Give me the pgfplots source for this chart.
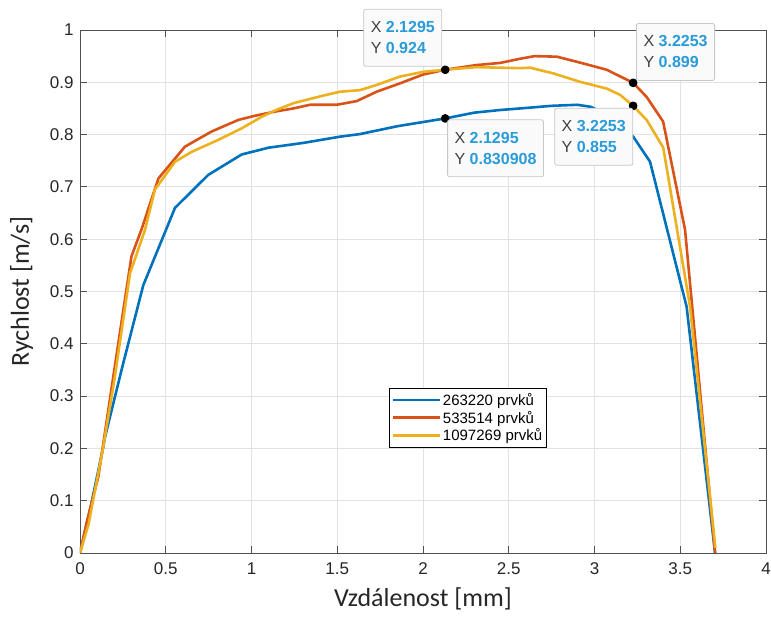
\documentclass[border=0pt]{standalone}
\usepackage{pgfplots}
\pgfplotsset{compat=1.18}
\usepackage{fontspec}
\setmainfont{Liberation Sans}
\newfontfamily\calibri{Carlito}
\definecolor{mblue}{HTML}{0072BD}
\definecolor{mred}{HTML}{D95319}
\definecolor{myellow}{HTML}{EDB120}
\definecolor{tipblue}{HTML}{2A9BD8}
\definecolor{axgray}{HTML}{505050}
\definecolor{gridgray}{HTML}{E2E2E2}
\definecolor{tickgray}{HTML}{262626}
\begin{document}
\begin{tikzpicture}[
  tipbox/.style={draw=black!22, fill=black!2, rounded corners=2pt, line width=0.8pt,
    inner xsep=7pt, inner ysep=0pt, minimum height=57pt, align=left,
    font=\fontsize{16}{21}\selectfont}]
\path[use as bounding box] (-80pt,-63pt) rectangle (691pt,553pt);
\begin{axis}[
  at={(0,0)}, anchor=south west,
  scale only axis, width=686pt, height=523pt,
  xmin=0, xmax=4, ymin=0, ymax=1,
  xtick={0,0.5,1,1.5,2,2.5,3,3.5,4},
  ytick={0,0.1,0.2,0.3,0.4,0.5,0.6,0.7,0.8,0.9,1},
  grid=major, major grid style={gridgray, line width=0.8pt},
  axis line style={axgray, line width=0.9pt},
  tick style={axgray, line width=0.9pt},
  tick align=inside, major tick length=7pt,
  /pgf/number format/assume math mode=true,
  ticklabel style={font=\fontsize{17}{20}\selectfont, text=tickgray},
  xticklabel style={yshift=-6pt},
  yticklabel style={xshift=-3pt},
  xlabel={Vzdálenost [mm]}, ylabel={Rychlost [m/s]},
  label style={font=\calibri\fontsize{26}{30}\selectfont, text=black!85},
  xlabel shift=6pt, ylabel shift=10pt,
  legend cell align=left,
  legend style={at={(rel axis cs:0.4504,0.3155)}, anchor=north west, draw=black, line width=0.8pt,
    font=\fontsize{15}{20}\selectfont, inner xsep=2pt, inner ysep=3pt,
    /tikz/every even column/.append style={column sep=3pt}},
  legend image code/.code={\draw[#1, line width=2.6pt] (0pt,0pt) -- (47pt,0pt);},
  every axis plot/.append style={line width=2.6pt, line join=round},
]
\addplot[mblue] coordinates {
(0,0) (0.06,0.085) (0.134,0.2) (0.146,0.222) (0.25,0.36) (0.369,0.512) (0.554,0.660)
(0.748,0.723) (0.943,0.762) (1.10,0.775) (1.30,0.784) (1.516,0.796) (1.633,0.801)
(1.85,0.816) (2.1295,0.830908) (2.30,0.842) (2.449,0.847) (2.566,0.850) (2.75,0.855)
(2.90,0.857) (2.98,0.853) (3.07,0.838) (3.15,0.818) (3.226,0.796) (3.324,0.748)
(3.537,0.471) (3.703,0.0)};
\addlegendentry{263220 prvků}
\addplot[mred] coordinates {
(0,0) (0.04,0.06) (0.107,0.146) (0.2,0.35) (0.30,0.567) (0.36,0.62) (0.457,0.716)
(0.612,0.777) (0.768,0.806) (0.923,0.828) (1.02,0.836) (1.137,0.844) (1.244,0.850)
(1.341,0.857) (1.497,0.857) (1.613,0.864) (1.730,0.882) (1.866,0.898) (2.002,0.915)
(2.1295,0.924) (2.313,0.933) (2.449,0.937) (2.566,0.945) (2.65,0.950) (2.78,0.949)
(2.935,0.936) (3.071,0.924) (3.2253,0.899) (3.304,0.872) (3.40,0.825) (3.528,0.618)
(3.703,0.0)};
\addlegendentry{533514 prvků}
\addplot[myellow] coordinates {
(0,0) (0.05,0.055) (0.134,0.2) (0.2,0.33) (0.292,0.535) (0.379,0.618) (0.437,0.695)
(0.554,0.748) (0.651,0.767) (0.807,0.790) (0.943,0.812) (1.059,0.834) (1.137,0.846)
(1.244,0.860) (1.399,0.873) (1.516,0.882) (1.633,0.885) (1.730,0.895) (1.866,0.911)
(2.002,0.920) (2.1295,0.924) (2.313,0.929) (2.566,0.927) (2.624,0.928) (2.760,0.917)
(2.915,0.901) (3.071,0.888) (3.149,0.876) (3.2253,0.855) (3.304,0.828) (3.401,0.775)
(3.557,0.471) (3.705,0.01)};
\addlegendentry{1097269 prvků}
\addplot[only marks, mark=*, mark size=3pt, black, forget plot] coordinates {
(2.1295,0.924) (2.1295,0.830908) (3.2253,0.855) (3.2253,0.899)};
\coordinate (p1) at (axis cs:2.1295,0.924);
\coordinate (p2) at (axis cs:2.1295,0.830908);
\coordinate (p3) at (axis cs:3.2253,0.855);
\coordinate (p4) at (axis cs:3.2253,0.899);
\end{axis}
\node[tipbox, anchor=south east] at ([xshift=-3pt,yshift=3pt]p1)
  {{\color{black!75}X} {\bfseries\color{tipblue}2.1295}\\{\color{black!75}Y} {\bfseries\color{tipblue}0.924}};
\node[tipbox, anchor=north west] at ([xshift=2pt,yshift=-1pt]p2)
  {{\color{black!75}X} {\bfseries\color{tipblue}2.1295}\\{\color{black!75}Y} {\bfseries\color{tipblue}0.830908}};
\node[tipbox, anchor=north east] at ([xshift=0pt,yshift=-2pt]p3)
  {{\color{black!75}X} {\bfseries\color{tipblue}3.2253}\\{\color{black!75}Y} {\bfseries\color{tipblue}0.855}};
\node[tipbox, anchor=south west] at ([xshift=3pt,yshift=2pt]p4)
  {{\color{black!75}X} {\bfseries\color{tipblue}3.2253}\\{\color{black!75}Y} {\bfseries\color{tipblue}0.899}};
\end{tikzpicture}
\end{document}
